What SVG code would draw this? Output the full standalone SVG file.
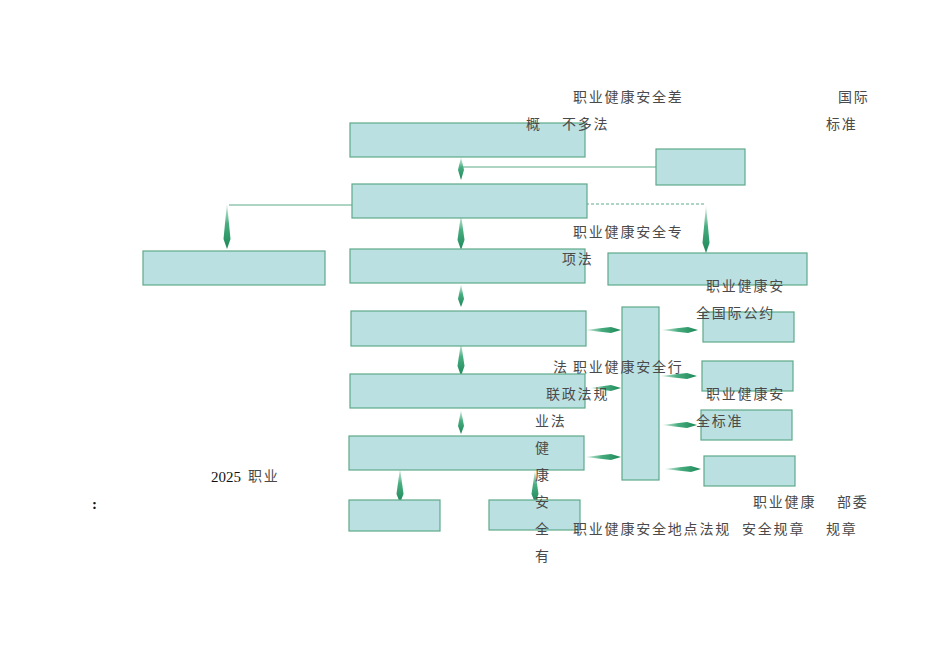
<svg xmlns="http://www.w3.org/2000/svg" width="950" height="672" viewBox="0 0 950 672">
<defs>
<style>
.box{fill:#bae0e2;stroke:#5fa98a;stroke-width:1.2}
.ln{stroke:#5fa98a;stroke-width:1.2;fill:none}
.dash{stroke:#5fa98a;stroke-width:1;fill:none;stroke-dasharray:3,2}
.av{fill:url(#gv)}
.ah{fill:url(#gh)}
.t{font-family:"Noto Sans CJK SC","Liberation Sans",sans-serif;font-size:14px;fill:#4a4a4a;letter-spacing:1.8px}
.s{font-family:"Liberation Serif","Noto Sans CJK SC",serif;font-size:15px;fill:#111}
</style>
<linearGradient id="gv" x1="0" y1="0" x2="0" y2="1">
<stop offset="0" stop-color="#e8f5ee"/>
<stop offset="0.45" stop-color="#48ad80"/>
<stop offset="1" stop-color="#1c8757"/>
</linearGradient>
<linearGradient id="gh" x1="0" y1="0" x2="1" y2="0">
<stop offset="0" stop-color="#e8f5ee"/>
<stop offset="0.45" stop-color="#48ad80"/>
<stop offset="1" stop-color="#1c8757"/>
</linearGradient>
</defs>
<rect width="950" height="672" fill="#fff"/>
<g id="connectors">
<line class="ln" x1="461" y1="167" x2="656" y2="167"/>
<line class="ln" x1="229" y1="205" x2="352" y2="205"/>
<line class="dash" x1="586" y1="204" x2="706" y2="204"/>
<polygon class="av" points="461,157 464,170 461,180 458,170"/>
<polygon class="av" points="461,214 464.5,240 461,250 457.5,240"/>
<polygon class="av" points="227,203 230.5,239 227,249 223.5,239"/>
<polygon class="av" points="706,205 709.5,243 706,253 702.5,243"/>
<polygon class="av" points="461,284 464,299 461,307 458,299"/>
<polygon class="av" points="461,342 464.5,366 461,376 457.5,366"/>
<polygon class="av" points="461,410 464,426 461,434 458,426"/>
<polygon class="av" points="400,468 403.5,494 400,503 396.5,494"/>
<polygon class="av" points="535,470 538.5,494 535,503 531.5,494"/>
<polygon class="ah" points="585,330 611,327 621,330 611,333"/>
<polygon class="ah" points="590,388 611,385 621,388 611,391"/>
<polygon class="ah" points="585,457 611,454 621,457 611,460"/>
<polygon class="ah" points="661,330 688,327 698,330 688,333"/>
<polygon class="ah" points="660,376 687,373 697,376 687,379"/>
<polygon class="ah" points="662,425 687,422 697,425 687,428"/>
<polygon class="ah" points="664,469 691,466 701,469 691,472"/>
</g>
<g id="n1"><rect class="box" x="350" y="123" width="235" height="34"/></g>
<g id="n2"><rect class="box" x="656" y="149" width="89" height="36"/></g>
<g id="n3"><rect class="box" x="352" y="184" width="235" height="34"/></g>
<g id="n4"><rect class="box" x="143" y="251" width="182" height="34"/></g>
<g id="n5"><rect class="box" x="350" y="249" width="235" height="34"/></g>
<g id="n6"><rect class="box" x="608" y="253" width="199" height="32"/></g>
<g id="n7"><rect class="box" x="351" y="311" width="235" height="35"/></g>
<g id="n8"><rect class="box" x="350" y="374" width="235" height="34"/></g>
<g id="n9"><rect class="box" x="349" y="436" width="235" height="34"/></g>
<g id="n10"><rect class="box" x="349" y="500" width="91" height="31"/></g>
<g id="n11"><rect class="box" x="489" y="500" width="91" height="30"/></g>
<g id="n12"><rect class="box" x="622" y="307" width="37" height="173"/></g>
<g id="n13"><rect class="box" x="703" y="312" width="91" height="30"/></g>
<g id="n14"><rect class="box" x="702" y="361" width="91" height="30"/></g>
<g id="n15"><rect class="box" x="701" y="410" width="91" height="30"/></g>
<g id="n16"><rect class="box" x="704" y="456" width="91" height="30"/></g>
<g id="labels">
<text class="t" x="573" y="102">职业健康安全差</text>
<text class="t" x="838" y="102">国际</text>
<text class="t" x="526" y="129">概</text>
<text class="t" x="562" y="129">不多法</text>
<text class="t" x="826" y="129">标准</text>
<text class="t" x="573" y="237">职业健康安全专</text>
<text class="t" x="562" y="264">项法</text>
<text class="t" x="706" y="291">职业健康安</text>
<text class="t" x="696" y="318">全国际公约</text>
<text class="t" x="553" y="372">法</text>
<text class="t" x="573" y="372">职业健康安全行</text>
<text class="t" x="546" y="399">联政法规</text>
<text class="t" x="706" y="399">职业健康安</text>
<text class="t" x="535" y="426">业法</text>
<text class="t" x="696" y="426">全标准</text>
<text class="t" x="535" y="453">健</text>
<text class="t" x="535" y="480">康</text>
<text class="t" x="535" y="507">安</text>
<text class="t" x="535" y="534">全</text>
<text class="t" x="535" y="561">有</text>
<text class="s" x="211" y="482">2025</text>
<text class="t" x="248" y="481">职业</text>
<text class="s" x="92" y="509" font-weight="bold">:</text>
<text class="t" x="753" y="507">职业健康</text>
<text class="t" x="837" y="507">部委</text>
<text class="t" x="573" y="534">职业健康安全地点法规</text>
<text class="t" x="742" y="534">安全规章</text>
<text class="t" x="826" y="534">规章</text>
</g>
</svg>
